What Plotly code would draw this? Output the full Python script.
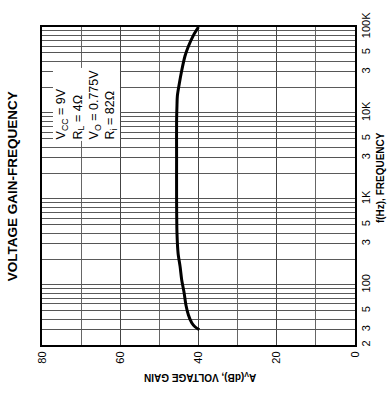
import plotly.graph_objects as go

# Data read from the (rotated) reference chart
freq_hz = [30, 32.6, 36, 45, 58, 82, 115, 163, 229, 400, 1000, 3000, 8000,
           12200, 15800, 22000, 31000, 46000, 59400, 80000, 100000]
gain_db = [39.8, 40.9, 41.7, 42.6, 43.2, 43.7, 44.3, 44.7, 45.2, 45.5, 45.6,
           45.6, 45.6, 45.5, 45.4, 44.9, 44.3, 43.45, 42.6, 41.3, 40.0]

freq_tickvals = [20, 30, 50, 100, 300, 500, 1000, 3000, 5000, 10000, 30000, 50000, 100000]
freq_ticktext = ["2", "3", "5", "100", "3", "5", "1K", "3", "5", "10K", "3", "5", "100K"]
freq_grid = [m * 10 ** e for e in range(1, 5) for m in range(1, 10)
             if 20 <= m * 10 ** e <= 100000]
gain_tickvals = [0, 20, 40, 60, 80]
gain_ticktext = ["0", "20", "40", "60", "80"]

title_text = "VOLTAGE GAIN-FREQUENCY"
freq_title = "f(Hz), FREQUENCY"
gain_title = "A<sub>V</sub>(dB), VOLTAGE GAIN"
cond_text = ("V<sub>CC</sub> = 9V<br>R<sub>L</sub> = 4Ω<br>"
             "V<sub>O</sub> = 0.775V<br>R<sub>i</sub> = 82Ω")

FONT = "Liberation Sans, Arial, sans-serif"

fig = go.Figure()
fig.add_trace(go.Scatter(
    x=gain_db, y=freq_hz, mode="lines",
    line=dict(color="black", width=3, shape="spline", smoothing=0.8),
    hoverinfo="skip", showlegend=False))

fig.update_layout(
    width=390, height=395,
    margin=dict(l=42, r=35, t=13, b=50),
    paper_bgcolor="white", plot_bgcolor="white",
    font=dict(family=FONT, color="black", size=11),
    showlegend=False,
)

fig.update_xaxes(
    range=[80, 0], tickmode="array", tickvals=gain_tickvals, ticktext=gain_ticktext,
    tickangle=-90, showgrid=True, gridcolor="#444444", gridwidth=1,
    minor=dict(dtick=10, tick0=0, showgrid=True, gridcolor="#666666", gridwidth=1),
    showline=True, linecolor="black", linewidth=2, mirror=True,
    ticks="", zeroline=False, tickfont=dict(size=11),
)
fig.update_yaxes(
    type="log", range=[1.30103, 5], side="right",
    tickmode="array", tickvals=freq_tickvals, ticktext=freq_ticktext,
    tickangle=-90, showgrid=True, gridcolor="#555555", gridwidth=1,
    ticklabeloverflow="allow",
    minor=dict(tickmode="array", tickvals=freq_grid, showgrid=True,
               gridcolor="#5a5a5a", gridwidth=1),
    showline=True, linecolor="black", linewidth=2, mirror=True,
    ticks="", zeroline=False, tickfont=dict(size=11),
)

fig.add_annotation(text="<b>" + title_text + "</b>", xref="paper", yref="paper",
                   x=-0.095, y=0.5, textangle=-90, showarrow=False,
                   font=dict(size=13.5, family=FONT), xanchor="center", yanchor="middle")
fig.add_annotation(text="<b>" + freq_title + "</b>", xref="paper", yref="paper",
                   x=1.08, y=0.525, textangle=-90, showarrow=False,
                   font=dict(size=10, family=FONT), xanchor="center", yanchor="middle")
fig.add_annotation(text="<b>" + gain_title + "</b>", xref="paper", yref="paper",
                   x=0.505, y=-0.1, textangle=180, showarrow=False,
                   font=dict(size=10, family=FONT), xanchor="center", yanchor="middle")
fig.add_annotation(text=cond_text, xref="paper", yref="paper",
                   x=0.035, y=0.64, textangle=-90, showarrow=False, align="left",
                   bgcolor="white", borderpad=1,
                   font=dict(size=12.5, family=FONT), xanchor="left", yanchor="bottom")

fig.write_html("out.html")
